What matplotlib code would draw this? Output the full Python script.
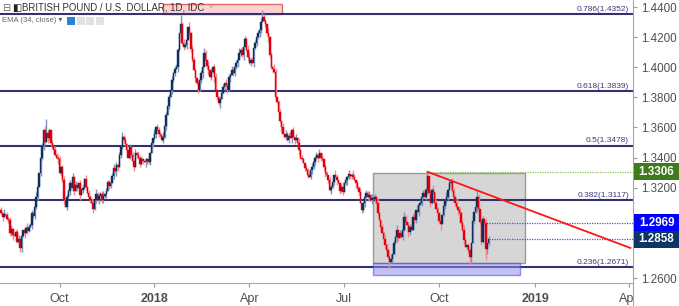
import numpy as np
import pandas as pd
import matplotlib
matplotlib.use("Agg")
import matplotlib.pyplot as plt
from matplotlib.patches import Rectangle

plt.rcParams["font.family"] = ["Liberation Sans", "DejaVu Sans"]

# ---- data (GBP/USD daily) ----
start_date = "2017-08-07"
first_open = 1.3050
closes = [
    1.3032, 1.3008, 1.3028, 1.3019, 1.2994, 1.2986, 1.2899, 1.2925, 1.2886, 1.2880,
    1.2906, 1.2840, 1.2858, 1.2800, 1.2880, 1.2920, 1.2898, 1.2933, 1.2915, 1.2940,
    1.2953, 1.3032, 1.3010, 1.3072, 1.3140, 1.3205, 1.3298, 1.3397, 1.3480, 1.3583,
    1.3504, 1.3563, 1.3530, 1.3583, 1.3500, 1.3470, 1.3450, 1.3420, 1.3400, 1.3390,
    1.3300, 1.3340, 1.3250, 1.3120, 1.3070, 1.3140, 1.3180, 1.3230, 1.3200, 1.3270,
    1.3180, 1.3215, 1.3200, 1.3230, 1.3150, 1.3185, 1.3200, 1.3255, 1.3205, 1.3165,
    1.3140, 1.3120, 1.3100, 1.3060, 1.3120, 1.3160, 1.3120, 1.3145, 1.3160, 1.3120,
    1.3145, 1.3160, 1.3180, 1.3240, 1.3210, 1.3230, 1.3280, 1.3330, 1.3310, 1.3350,
    1.3340, 1.3420, 1.3470, 1.3540, 1.3520, 1.3490, 1.3450, 1.3400, 1.3470, 1.3420,
    1.3380, 1.3340, 1.3430, 1.3415, 1.3400, 1.3360, 1.3390, 1.3380, 1.3370, 1.3380,
    1.3390, 1.3370, 1.3430, 1.3500, 1.3530, 1.3560, 1.3600, 1.3580, 1.3560, 1.3550,
    1.3520, 1.3540, 1.3610, 1.3680, 1.3740, 1.3800, 1.3850, 1.3915, 1.3960, 1.3990,
    1.4000, 1.4115, 1.4225, 1.4290, 1.4160, 1.4135, 1.4150, 1.4180, 1.4270, 1.4225,
    1.4120, 1.4050, 1.3980, 1.3930, 1.3895, 1.3850, 1.3915, 1.3960, 1.4000, 1.4095,
    1.4050, 1.4010, 1.3980, 1.3935, 1.3970, 1.4000, 1.3935, 1.3850, 1.3800, 1.3760,
    1.3790, 1.3830, 1.3870, 1.3895, 1.3880, 1.3850, 1.3935, 1.3950, 1.3980, 1.3960,
    1.4000, 1.4030, 1.4050, 1.4095, 1.4115, 1.4080, 1.4135, 1.4190, 1.4115, 1.4070,
    1.4030, 1.4050, 1.4030, 1.4130, 1.4160, 1.4200, 1.4230, 1.4250, 1.4300, 1.4335,
    1.4310, 1.4290, 1.4230, 1.4200, 1.4080, 1.4000, 1.3990, 1.3970, 1.3800, 1.3770,
    1.3700, 1.3640, 1.3600, 1.3560, 1.3540, 1.3560, 1.3520, 1.3545, 1.3530, 1.3580,
    1.3540, 1.3520, 1.3530, 1.3500, 1.3450, 1.3400, 1.3390, 1.3365, 1.3330, 1.3320,
    1.3285, 1.3270, 1.3320, 1.3335, 1.3370, 1.3400, 1.3420, 1.3400, 1.3430, 1.3400,
    1.3390, 1.3340, 1.3300, 1.3285, 1.3250, 1.3185, 1.3205, 1.3240, 1.3285, 1.3270,
    1.3250, 1.3230, 1.3180, 1.3205, 1.3170, 1.3230, 1.3250, 1.3270, 1.3290, 1.3280,
    1.3285, 1.3270, 1.3250, 1.3230, 1.3200, 1.3170, 1.3100, 1.3050, 1.3100, 1.3140,
    1.3165, 1.3140, 1.3150, 1.3120, 1.3135, 1.3125, 1.3140, 1.3100, 1.3030, 1.2986,
    1.2940, 1.2900, 1.2860, 1.2820, 1.2787, 1.2740, 1.2707, 1.2730, 1.2760, 1.2833,
    1.2870, 1.2920, 1.2866, 1.2900, 1.2873, 1.2920, 1.3006, 1.2973, 1.2950, 1.2905,
    1.2940, 1.2920, 1.3006, 1.2986, 1.3052, 1.3040, 1.3085, 1.3100, 1.3140, 1.3165,
    1.3140, 1.3185, 1.3280, 1.3165, 1.3100, 1.3185, 1.3170, 1.3100, 1.3060, 1.3030,
    1.2980, 1.2960, 1.3020, 1.3080, 1.3110, 1.3140, 1.3185, 1.3230, 1.3237, 1.3180,
    1.3140, 1.3100, 1.3070, 1.3052, 1.3030, 1.2966, 1.2920, 1.2853, 1.2807, 1.2820,
    1.2787, 1.2740, 1.2830, 1.2980, 1.3040, 1.3070, 1.3140, 1.3060, 1.2970, 1.2840,
    1.2990, 1.2969, 1.2790, 1.2830, 1.2858,
]
# wick lengths in units of 10 pips
upper_wicks = "".join([
    "2130212310", "1231202132", "1202340121", "3121021312", "2013121203",
    "1320212130", "2112031212", "3021102312", "1203121021", "2130312102",
    "1212031221", "0312120312", "2102131203", "1321021213", "2031212301",
    "1220312132", "0213120213", "3120212031", "2103121320", "1213021231",
    "2031312102", "1203212130", "3121021203", "2012312130", "1320213012",
    "2131202131", "0213121302", "1302123102", "2123031202", "3120213021",
    "1202131203", "2130212310", "1213021203", "21302",
])
lower_wicks = "".join([
    "1302121230", "2120313021", "0312120213", "2031212103", "1213021302",
    "3021302121", "1203121302", "2130210213", "3021213012", "1302121203",
    "2120313021", "1213020312", "0312121302", "2103121230", "1230213021",
    "3012121302", "2130213012", "1203121320", "0213213021", "2130121203",
    "1302312021", "2013121302", "1230213120", "3021201312", "2103120213",
    "1231302120", "2013212031", "1320121203", "2103213021", "1230312102",
    "2301212031", "1203121302", "2130213012", "12031",
])
high_marks = {31: 1.3657, 123: 1.4345, 179: 1.4377, 292: 1.3306, 308: 1.3260, 326: 1.3175}
low_marks = {13: 1.2774, 266: 1.2662, 301: 1.2922, 321: 1.2696, 332: 1.2723}

fib_prices = [1.4352, 1.3839, 1.3478, 1.3117, 1.2671]
fib_labels = ["0.786(1.4352)", "0.618(1.3839)", "0.5(1.3478)", "0.382(1.3117)", "0.236(1.2671)"]

price_ticks = [1.26, 1.32, 1.34, 1.36, 1.38, 1.40, 1.42, 1.44]
tick_months = ["2017-10", "2018-01", "2018-04", "2018-07", "2018-10", "2019-01", "2019-04"]
tick_labels = ["Oct", "2018", "Apr", "Jul", "Oct", "2019", "Apr"]

range_box = [255, 359, 1.2700, 1.3298]     # first bar, last bar, low, high
support_box = [255, 356, 1.2622, 1.2700]
top_box = [111, 192.5, 1.4353, 1.4420]
trend_bars = [292, 431]
trend_prices = [1.3306, 1.2800]
levels = [1.3306, 1.2969, 1.2858]
level_start = [292, 331, 334]
level_colors = ["#8bc34a", "#4f4fff", "#4f4fff"]
level_box_colors = ["#3f7a1d", "#0000ff", "#0d3566"]

# ---- build candles ----
c = np.array(closes)
n = len(c)
o = np.concatenate([[first_open], c[:-1]])
up = np.array([int(ch) for ch in upper_wicks[:n]]) * 0.001
lo = np.array([int(ch) for ch in lower_wicks[:n]]) * 0.001
h = np.maximum(o, c) + up
l = np.minimum(o, c) - lo
for k, v in high_marks.items():
    h[k] = v
for k, v in low_marks.items():
    l[k] = v
x = np.arange(n)
rising = c >= o

W, H = 679, 306
fig = plt.figure(figsize=(W / 100, H / 100), dpi=100)
ax = fig.add_axes([0, 1 - 283 / H, 633 / W, 283 / H])
ylo, yhi = 1.44 - 276 / 1506, 1.44 + 7 / 1506

ax.add_patch(Rectangle((range_box[0] - 0.5, range_box[2]), range_box[1] - range_box[0],
                       range_box[3] - range_box[2], facecolor="#d6d6d6",
                       edgecolor="#9a9a9a", lw=1, zorder=1))
ax.add_patch(Rectangle((top_box[0], top_box[2]), top_box[1] - top_box[0],
                       top_box[3] - top_box[2], facecolor="#fbd3d3",
                       edgecolor="#e06a6a", lw=1, zorder=1))

yaxis_tf = ax.get_yaxis_transform()  # x in axes fraction, y in price
for p, lab in zip(fib_prices, fib_labels):
    ax.axhline(p, color="#34316e", lw=1.5, zorder=2)
    ax.text(629 / 633, p + 0.0009, lab, transform=yaxis_tf, fontsize=6, color="#3b3b7a",
            ha="right", va="bottom", zorder=2)

ax.add_patch(Rectangle((support_box[0] - 0.5, support_box[2]), support_box[1] - support_box[0],
                       support_box[3] - support_box[2], facecolor="#8f8fef", alpha=0.55,
                       edgecolor="#4545e0", lw=1, zorder=2.6))

wick_colors = np.where(rising, "#7f98ba", "#f38b8b")
body_colors = np.where(rising, "#0e2f5e", "#e3000f")
ax.vlines(x, l, h, colors=wick_colors, lw=1.0, zorder=3)
ax.bar(x, np.maximum(np.abs(c - o), 0.0004), bottom=np.minimum(o, c), width=1.0,
       color=body_colors, edgecolor=body_colors, linewidth=0.3, zorder=4)

for lv, st, col in zip(levels, level_start, level_colors):
    ax.hlines(lv, st, 440, colors=col, linestyles=(0, (1, 1)), lw=0.9, zorder=5)
ax.plot(trend_bars, trend_prices, color="#ff1414", lw=1.3, zorder=6)

# axes
ax.set_xlim(-0.8, 432.8)
ax.set_ylim(ylo, yhi)
ax.yaxis.tick_right()
ax.set_yticks(price_ticks)
ax.set_yticklabels([f"{t:.4f}" for t in price_ticks])
cal = pd.bdate_range(start_date, "2019-04-30")
tick_pos = [int(np.argmax(cal >= pd.Timestamp(m + "-01"))) for m in tick_months]
ax.set_xticks(tick_pos)
ax.set_xticklabels(tick_labels)
for t, lab in zip(ax.get_xticklabels(), tick_labels):
    if lab.isdigit():
        t.set_fontweight("bold")
ax.tick_params(axis="both", colors="#9a9a9a", labelcolor="#4f4f4f", length=3, width=0.8,
               labelsize=9)
ax.tick_params(axis="x", pad=4)
ax.tick_params(axis="y", pad=3, labelsize=8.4)
for s in ["top", "left"]:
    ax.spines[s].set_visible(False)
ax.spines["right"].set_color("#a8a8a8")
ax.spines["bottom"].set_color("#a8a8a8")

# cover the clipped "Apr" under the price scale
fig.add_artist(Rectangle((634 / W, 0), 45 / W, 21 / H, transform=fig.transFigure,
                         facecolor="white", edgecolor="none", zorder=5))
fig.add_artist(plt.Line2D([633 / W, 633 / W], [0, 1 - 283 / H], transform=fig.transFigure,
                          color="#a8a8a8", lw=0.8, zorder=6))

# price labels on the scale (figure fractions from the axes' price range)
ax_bottom, ax_height = 1 - 283 / H, 283 / H
for lv, col in zip(levels, level_box_colors):
    fy = ax_bottom + (lv - ylo) / (yhi - ylo) * ax_height
    fig.patches.append(Rectangle((634 / W, fy - 8.5 / H), 45 / W, 17 / H,
                                 transform=fig.transFigure, figure=fig,
                                 facecolor=col, edgecolor="none", zorder=10))
    fig.text(656.5 / W, fy, f"{lv:.4f}", ha="center", va="center",
             color="white", fontsize=8.4, fontweight="bold", zorder=11)

# header
fig.text(2 / W, 1 - 8 / H, "⊟", fontsize=7, color="#666", va="center")
fig.text(12 / W, 1 - 8 / H, "◧", fontsize=7, color="#222", va="center")
fig.text(22 / W, 1 - 8 / H, "BRITISH POUND / U.S. DOLLAR, 1D, IDC", fontsize=6.9,
         color="#333333", va="center")
fig.text(209 / W, 1 - 7 / H, "▾", fontsize=6, color="#bbbbbb", va="center")
fig.text(2 / W, 1 - 20 / H, "EMA (34, close) ▾", fontsize=5.5, color="#666666", va="center")
for i, col in enumerate(["#2f7de1", "#e2e2e2", "#e2e2e2", "#e2e2e2"]):
    fig.add_artist(Rectangle(((67 + i * 9.5) / W, 1 - 25 / H), 8 / W, 8 / H,
                             transform=fig.transFigure, facecolor=col, edgecolor="none"))

fig.savefig("out.png", dpi=100)
